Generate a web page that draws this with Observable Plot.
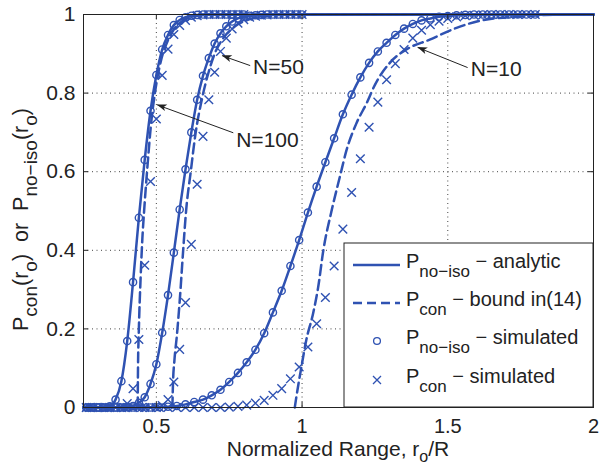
<!DOCTYPE html>
<html><head><meta charset="utf-8">
<script src="https://cdn.jsdelivr.net/npm/d3@7"></script>
<script src="https://cdn.jsdelivr.net/npm/@observablehq/plot@0.6"></script>
<style>body{margin:0;background:#fff}</style>
</head><body><div id="chart"></div>
<script>
const BLUE = "#2f52b2";
const INK = "#222";
const FONT = "'Liberation Sans', Arial, Helvetica, sans-serif";

// ---- simulated points (circles = P_no-iso, crosses = P_con) ----
const simX100 = [0.26,0.28,0.30,0.32,0.34,0.36,0.38,0.40,0.42,0.44,0.46,0.48,0.50,0.52,0.54,0.56,0.58,0.60,0.62,0.64,0.66,0.68,0.70,0.72,0.74,0.76,0.78,0.80];
const simNoIso100 = [0,0,0,0,0.003,0.02,0.067,0.169,0.319,0.483,0.63,0.755,0.846,0.911,0.948,0.973,0.986,0.993,0.997,0.999,1,1,1,1,1,1,1,1];
const simCon100 = [0,0,0,0,0,0,0,0.01,0.048,0.173,0.362,0.575,0.734,0.845,0.912,0.949,0.972,0.985,0.993,0.997,0.999,1,1,1,1,1,1,1];

const simX50 = [0.26,0.28,0.30,0.32,0.34,0.36,0.38,0.40,0.42,0.44,0.46,0.48,0.50,0.52,0.54,0.56,0.58,0.60,0.62,0.64,0.66,0.68,0.70,0.72,0.74,0.76,0.78,0.80,0.82,0.84,0.86,0.88,0.90,0.92,0.94,0.96,0.98,1.00];
const simNoIso50 = [0,0,0,0,0,0,0,0.001,0.004,0.012,0.026,0.06,0.11,0.19,0.286,0.394,0.504,0.606,0.70,0.783,0.844,0.889,0.926,0.952,0.97,0.982,0.99,0.994,0.997,0.998,0.999,1,1,1,1,1,1,1];
const simCon50 = [0,0,0,0,0,0,0,0,0,0,0,0,0,0.005,0.02,0.065,0.148,0.267,0.415,0.568,0.69,0.783,0.853,0.906,0.94,0.963,0.978,0.987,0.993,0.996,0.998,0.999,1,1,1,1,1,1];

const simX10 = [0.27,0.30,0.33,0.36,0.39,0.42,0.45,0.48,0.51,0.54,0.57,0.60,0.63,0.66,0.69,0.72,0.75,0.78,0.81,0.84,0.87,0.90,0.93,0.96,0.99,1.02,1.05,1.08,1.11,1.14,1.17,1.20,1.23,1.26,1.29,1.32,1.35,1.38,1.41,1.44,1.47,1.50,1.53,1.56,1.59,1.62,1.65,1.68,1.71,1.74,1.77,1.80];
const simNoIso10 = [0,0,0,0,0,0,0,0,0.001,0.002,0.004,0.008,0.014,0.020,0.031,0.045,0.065,0.088,0.115,0.147,0.189,0.242,0.297,0.36,0.426,0.496,0.562,0.624,0.685,0.746,0.796,0.84,0.877,0.906,0.928,0.948,0.964,0.976,0.985,0.99,0.994,0.996,0.998,0.999,1,1,1,1,1,1,1,1];
const simCon10 = [0,0,0,0,0,0,0,0,0,0,0,0,0,0,0,0,0.001,0.003,0.006,0.011,0.018,0.031,0.048,0.073,0.103,0.154,0.213,0.28,0.36,0.454,0.547,0.633,0.713,0.777,0.834,0.875,0.911,0.94,0.96,0.974,0.983,0.99,0.994,0.997,0.998,0.999,1,1,1,1,1,1];

// ---- analytic P_no-iso curves (solid) ----
const anaX100 = [0.25,0.32,0.34,0.36,0.38,0.40,0.42,0.44,0.46,0.48,0.50,0.52,0.54,0.56,0.58,0.60,0.62,0.64,0.66,0.70,2.0];
const anaY100 = [0,0,0.003,0.02,0.067,0.169,0.319,0.483,0.63,0.755,0.846,0.911,0.948,0.973,0.986,0.993,0.997,0.999,1,1,1];
const anaX50 = [0.25,0.38,0.40,0.42,0.44,0.46,0.48,0.50,0.52,0.54,0.56,0.58,0.60,0.62,0.64,0.66,0.68,0.70,0.72,0.74,0.76,0.78,0.80,0.82,0.84,0.86,0.90,2.0];
const anaY50 = [0,0,0.001,0.004,0.012,0.026,0.06,0.11,0.19,0.286,0.394,0.504,0.606,0.70,0.783,0.844,0.889,0.926,0.952,0.97,0.982,0.99,0.994,0.997,0.998,0.999,1,1];
const anaX10 = [0.25,0.45,0.51,0.54,0.57,0.60,0.63,0.66,0.69,0.72,0.75,0.78,0.81,0.84,0.87,0.90,0.93,0.96,0.99,1.02,1.05,1.08,1.11,1.14,1.17,1.20,1.23,1.26,1.29,1.32,1.35,1.38,1.41,1.44,1.47,1.50,1.53,1.56,1.65,2.0];
const anaY10 = [0,0,0.001,0.002,0.004,0.008,0.014,0.020,0.031,0.045,0.065,0.088,0.115,0.147,0.189,0.242,0.297,0.36,0.426,0.496,0.562,0.624,0.685,0.746,0.796,0.84,0.877,0.906,0.928,0.948,0.964,0.976,0.985,0.99,0.994,0.996,0.998,0.999,1,1];

// ---- P_con bound in (14) curves (dashed) ----
const bndX100 = [0.436,0.437,0.440,0.446,0.452,0.458,0.468,0.483,0.495,0.515,0.54,0.56,0.58,0.60,0.63,0.66,0.70,2.0];
const bndY100 = [0,0.1,0.2,0.33,0.43,0.5,0.6,0.73,0.80,0.88,0.935,0.962,0.978,0.988,0.996,0.999,1,1];
const bndX50 = [0.555,0.557,0.562,0.570,0.580,0.592,0.602,0.618,0.635,0.655,0.68,0.70,0.73,0.77,0.82,0.88,0.95,2.0];
const bndY50 = [0,0.06,0.12,0.18,0.27,0.40,0.50,0.60,0.70,0.78,0.855,0.90,0.94,0.97,0.988,0.996,1,1];
const bndX10 = [0.975,0.979,0.997,1.014,1.038,1.055,1.073,1.102,1.13,1.153,1.187,1.222,1.25,1.301,1.358,1.438,1.53,1.616,1.75,1.92,2.0];
const bndY10 = [0,0.02,0.10,0.17,0.24,0.305,0.40,0.503,0.588,0.656,0.724,0.775,0.821,0.877,0.911,0.936,0.966,0.985,0.995,1,1];

// ---- axes ----
const xTicks = [0.5, 1, 1.5, 2];
const xTickLabels = ["0.5", "1", "1.5", "2"];
const yTicks = [0, 0.2, 0.4, 0.6, 0.8, 1];
const yTickLabels = ["0", "0.2", "0.4", "0.6", "0.8", "1"];
const xGrid = [0.5, 1, 1.5];
const yGrid = [0.2, 0.4, 0.6, 0.8];

// ---- annotations ----
const annoLabels = ["N=100", "N=50", "N=10"];
const annoTextX = [0.774, 0.832, 1.579];
const annoTextY = [0.679, 0.867, 0.860];
const annoTailX = [0.764, 0.822, 1.568];
const annoTailY = [0.699, 0.870, 0.865];
const annoTipX = [0.503, 0.726, 1.397];
const annoTipY = [0.770, 0.895, 0.916];

const zip = (xs, ys, n) => xs.map((x, i) => ({x, y: ys[i], n}));
const circles = [...zip(simX100, simNoIso100, 100), ...zip(simX50, simNoIso50, 50), ...zip(simX10, simNoIso10, 10)];
const crosses = [...zip(simX100, simCon100, 100), ...zip(simX50, simCon50, 50), ...zip(simX10, simCon10, 10)];
const analytic = [...zip(anaX100, anaY100, 100), ...zip(anaX50, anaY50, 50), ...zip(anaX10, anaY10, 10)];
const bound = [...zip(bndX100, bndY100, 100), ...zip(bndX50, bndY50, 50), ...zip(bndX10, bndY10, 10)];
const annos = annoLabels.map((t, i) => ({t, tx: annoTextX[i], ty: annoTextY[i], x1: annoTailX[i], y1: annoTailY[i], x2: annoTipX[i], y2: annoTipY[i]}));

const chart = Plot.plot({
  width: 600, height: 466,
  marginLeft: 83, marginRight: 7, marginTop: 14, marginBottom: 59,
  x: {domain: [0.25, 2], axis: null},
  y: {domain: [0, 1], axis: null},
  style: {background: "white", fontFamily: FONT, overflow: "visible"},
  marks: [
    Plot.ruleX(xGrid, {x: d => d, stroke: "#444", strokeWidth: 1, strokeDasharray: "1,3.5"}),
    Plot.ruleY(yGrid, {y: d => d, stroke: "#444", strokeWidth: 1, strokeDasharray: "1,3.5"}),
    Plot.line(analytic, {x: "x", y: "y", z: "n", stroke: BLUE, strokeWidth: 2.5, curve: "monotone-x"}),
    Plot.line(bound, {x: "x", y: "y", z: "n", stroke: BLUE, strokeWidth: 2.5, strokeDasharray: "10,5", curve: "monotone-x"}),
    Plot.dot(circles, {x: "x", y: "y", r: 3.6, stroke: BLUE, strokeWidth: 1.4, fill: "none"}),
    Plot.dot(crosses, {x: "x", y: "y", r: 4, symbol: "times", stroke: BLUE, strokeWidth: 1.4}),
    Plot.frame({stroke: INK, strokeWidth: 1}),
    Plot.tickX(xTicks, {x: d => d, insetTop: 388, stroke: INK}),
    Plot.tickX(xTicks, {x: d => d, insetBottom: 388, stroke: INK}),
    Plot.tickY(yTicks, {y: d => d, insetRight: 505, stroke: INK}),
    Plot.tickY(yTicks, {y: d => d, insetLeft: 505, stroke: INK}),
    Plot.text(xTicks, {x: d => d, y: 0, text: (d, i) => xTickLabels[i], dy: 25, lineAnchor: "bottom", fontSize: 20, fill: INK}),
    Plot.text(yTicks, {x: 0.25, y: d => d, text: (d, i) => yTickLabels[i], dx: -8, textAnchor: "end", fontSize: 21, fill: INK}),
    Plot.link(annos, {x1: "x1", y1: "y1", x2: "x2", y2: "y2", stroke: INK, strokeWidth: 1}),
    Plot.text(annos, {x: "tx", y: "ty", text: "t", textAnchor: "start", fontSize: 21, fill: INK})
  ]
});
document.getElementById("chart").append(chart);

const sx = v => chart.scale("x").apply(v);
const sy = v => chart.scale("y").apply(v);
const svg = d3.select(chart);

// arrow heads (filled)
annos.forEach(a => {
  const tx = sx(a.x2), ty = sy(a.y2), bx = sx(a.x1), by = sy(a.y1);
  const L = Math.hypot(tx - bx, ty - by), ux = (tx - bx) / L, uy = (ty - by) / L;
  const nx = -uy, ny = ux, hl = 10, hw = 3.5;
  const pts = [[tx, ty], [tx - hl * ux + hw * nx, ty - hl * uy + hw * ny], [tx - 0.75 * hl * ux, ty - 0.75 * hl * uy], [tx - hl * ux - hw * nx, ty - hl * uy - hw * ny]];
  svg.append("polygon").attr("points", pts.map(p => p.join(",")).join(" ")).attr("fill", INK);
});

function rich(sel, parts, size, subSize, shift) {
  let prevSub = false;
  parts.forEach(([s, sub]) => {
    const t = sel.append("tspan").text(s);
    if (sub && !prevSub) t.attr("dy", shift).attr("font-size", subSize);
    else if (!sub && prevSub) t.attr("dy", -shift).attr("font-size", size);
    else t.attr("font-size", sub ? subSize : size);
    prevSub = sub;
  });
  return sel;
}

// x label
rich(svg.append("text").attr("x", (sx(0.25) + sx(2)) / 2).attr("y", 456).attr("text-anchor", "middle")
  .attr("font-family", FONT).attr("font-size", 21).attr("fill", INK),
  [["Normalized Range, r", false], ["o", true], ["/R", false]], 21, 16, 6);

// y label
rich(svg.append("text").attr("transform", `translate(28,331) rotate(-90)`).attr("text-anchor", "start")
  .attr("font-family", FONT).attr("font-size", 21.5).attr("fill", INK),
  [["P", false], ["con", true], ["(r", false], ["o", true], [")\u00a0\u00a0or\u00a0\u00a0P", false], ["no\u2212iso", true], ["(r", false], ["o", true], [")", false]], 21.5, 19, 9);

// legend
const right = sx(2), bottom = sy(0);
const bx0 = right - 249, by0 = bottom - 164;
const lg = svg.append("g");
lg.append("rect").attr("x", bx0).attr("y", by0).attr("width", 249).attr("height", 164).attr("fill", "white").attr("stroke", INK).attr("stroke-width", 1);
const rows = [22, 60, 98, 137];
lg.append("line").attr("x1", bx0 + 9).attr("x2", bx0 + 56).attr("y1", by0 + rows[0]).attr("y2", by0 + rows[0]).attr("stroke", BLUE).attr("stroke-width", 2.5);
lg.append("line").attr("x1", bx0 + 9).attr("x2", bx0 + 56).attr("y1", by0 + rows[1]).attr("y2", by0 + rows[1]).attr("stroke", BLUE).attr("stroke-width", 2.5).attr("stroke-dasharray", "9,5");
lg.append("circle").attr("cx", bx0 + 33).attr("cy", by0 + rows[2]).attr("r", 3.4).attr("fill", "none").attr("stroke", BLUE).attr("stroke-width", 1.3);
lg.append("path").attr("d", `M${bx0 + 29},${by0 + rows[3] - 4}L${bx0 + 37},${by0 + rows[3] + 4}M${bx0 + 29},${by0 + rows[3] + 4}L${bx0 + 37},${by0 + rows[3] - 4}`).attr("stroke", BLUE).attr("stroke-width", 1.3);
const legTexts = [
  [["P", false], ["no\u2212iso", true], [" \u2212 analytic", false]],
  [["P", false], ["con", true], [" \u2212 bound in(14)", false]],
  [["P", false], ["no\u2212iso", true], [" \u2212 simulated", false]],
  [["P", false], ["con", true], [" \u2212 simulated", false]]
];
legTexts.forEach((parts, i) => {
  rich(lg.append("text").attr("x", bx0 + 62).attr("y", by0 + rows[i] + 3).attr("text-anchor", "start")
    .attr("font-family", FONT).attr("font-size", 20).attr("fill", INK).attr("xml:space", "preserve"),
    parts, 20, 17, 9);
});
</script>
</body></html>
